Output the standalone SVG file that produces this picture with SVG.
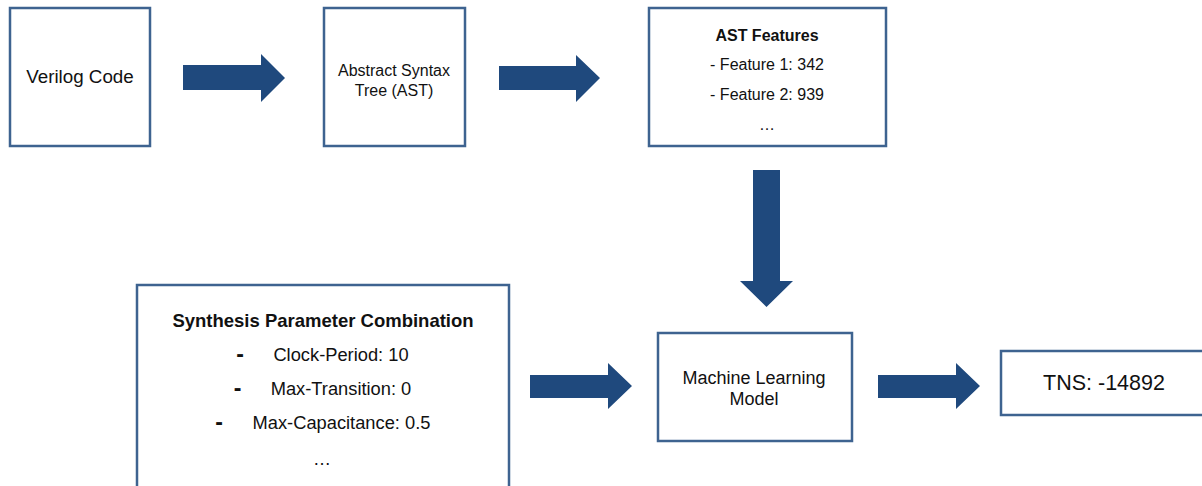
<svg xmlns="http://www.w3.org/2000/svg" width="1202" height="486" viewBox="0 0 1202 486">
  <style>
    .box { fill: #ffffff; stroke: #3e6390; stroke-width: 2.5; }
    .arrow { fill: #1f497d; }
    text { font-family: "Liberation Sans", Arial, sans-serif; fill: #111111; text-anchor: middle; }
    .b { font-weight: bold; }
    .dash { font-weight: bold; font-size: 23px; }
  </style>
  <rect width="1202" height="486" fill="#ffffff"/>

  <g id="verilog">
    <rect class="box" x="10" y="8" width="140" height="138"/>
    <text x="80" y="83" font-size="18.8">Verilog Code</text>
  </g>

  <g id="ast">
    <rect class="box" x="324" y="8" width="141" height="138"/>
    <text x="394" y="76" font-size="16">Abstract Syntax</text>
    <text x="394" y="96" font-size="16">Tree (AST)</text>
  </g>

  <g id="ast-features">
    <rect class="box" x="649" y="8" width="237" height="138"/>
    <text class="b" x="767" y="41" font-size="16">AST Features</text>
    <text x="767" y="70" font-size="16">- Feature 1: 342</text>
    <text x="767" y="100" font-size="16">- Feature 2: 939</text>
    <text x="767" y="130" font-size="16">…</text>
  </g>

  <g id="synthesis-params">
    <rect class="box" x="137" y="285" width="372" height="220"/>
    <text class="b" x="323" y="327" font-size="18.5">Synthesis Parameter Combination</text>
    <text class="dash" x="240" y="362">-</text>
    <text x="341" y="361" font-size="18.3">Clock-Period: 10</text>
    <text class="dash" x="237.5" y="396">-</text>
    <text x="341" y="395" font-size="18.3">Max-Transition: 0</text>
    <text class="dash" x="219" y="430">-</text>
    <text x="341.5" y="429" font-size="18.3">Max-Capacitance: 0.5</text>
    <text x="322" y="465" font-size="18">…</text>
  </g>

  <g id="ml-model">
    <rect class="box" x="658" y="333" width="194" height="108"/>
    <text x="754" y="384" font-size="18">Machine Learning</text>
    <text x="754" y="405" font-size="18">Model</text>
  </g>

  <g id="tns">
    <rect class="box" x="1001" y="351" width="215" height="64"/>
    <text x="1104" y="390" font-size="21.5">TNS: -14892</text>
  </g>

  <g id="connectors">
    <polygon class="arrow" points="183,65 261,65 261,54 285,78 261,102 261,90 183,90"/>
    <polygon class="arrow" points="499,66 576,66 576,55 600,78 576,102 576,90 499,90"/>
    <polygon class="arrow" points="753,170 780,170 780,281 793,281 766.5,307 740,281 753,281"/>
    <polygon class="arrow" points="530,375 608,375 608,363 632,386 608,409 608,398 530,398"/>
    <polygon class="arrow" points="878,375 956,375 956,363 980,386 956,409 956,398 878,398"/>
  </g>
</svg>
